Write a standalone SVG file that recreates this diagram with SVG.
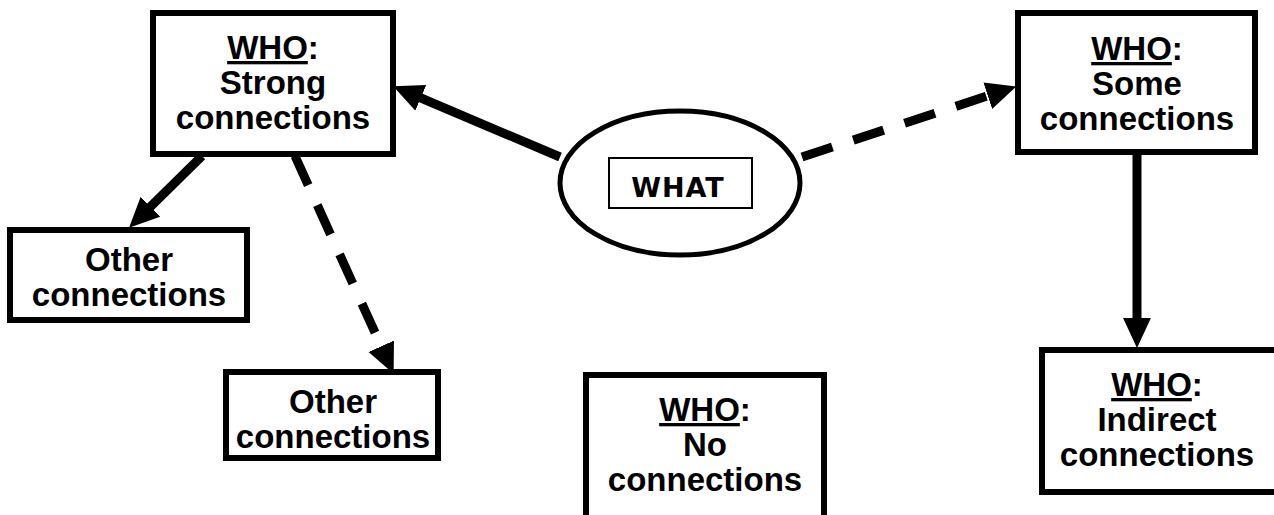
<svg xmlns="http://www.w3.org/2000/svg" width="1274" height="515" viewBox="0 0 1274 515">
<style>
.box{fill:#fff;stroke:#000;stroke-width:6}
.t{font-family:"Liberation Sans",Arial,sans-serif;font-weight:bold;font-size:33px;fill:#000;text-anchor:middle}
.u{text-decoration:underline}
.c{fill:none;stroke:#000;stroke-width:9}
.d{stroke-dasharray:32 22}
</style>
<defs>
<marker id="ah" markerUnits="userSpaceOnUse" markerWidth="30" markerHeight="30" refX="13" refY="13" orient="auto" viewBox="0 0 28 26">
<path d="M0,0 L28,13 L0,26 z" fill="#000"/>
</marker>
</defs>
<rect width="1274" height="515" fill="#fff"/>
<g id="connectors">
<line class="c" x1="560" y1="157" x2="408" y2="92.5" marker-end="url(#ah)"/>
<line class="c d" x1="802" y1="157" x2="1001" y2="91.5" marker-end="url(#ah)"/>
<line class="c" x1="202" y1="156" x2="140.5" y2="216.5" marker-end="url(#ah)"/>
<line class="c d" x1="295" y1="156" x2="387" y2="359" marker-end="url(#ah)"/>
<line class="c" x1="1137" y1="155" x2="1137" y2="332" marker-end="url(#ah)"/>
</g>
<g id="strong">
<rect class="box" x="153" y="13" width="240" height="141"/>
<text class="t" x="273" y="59"><tspan class="u">WHO</tspan>:</text>
<text class="t" x="273" y="94">Strong</text>
<text class="t" x="273" y="129">connections</text>
</g>
<g id="what">
<ellipse cx="680" cy="183" rx="120" ry="72" fill="#fff" stroke="#000" stroke-width="5"/>
<rect x="609" y="158" width="143" height="50" fill="#fff" stroke="#000" stroke-width="2"/>
<text x="678" y="197" font-family="DejaVu Sans,Verdana,sans-serif" font-weight="bold" font-size="27" letter-spacing="1" text-anchor="middle">WHAT</text>
</g>
<g id="some">
<rect class="box" x="1018" y="13" width="237" height="139"/>
<text class="t" x="1137" y="60"><tspan class="u">WHO</tspan>:</text>
<text class="t" x="1137" y="95">Some</text>
<text class="t" x="1137" y="130">connections</text>
</g>
<g id="other1">
<rect class="box" x="10" y="230" width="237" height="90"/>
<text class="t" x="129" y="271">Other</text>
<text class="t" x="129" y="306">connections</text>
</g>
<g id="other2">
<rect class="box" x="226" y="372" width="212" height="86"/>
<text class="t" x="333" y="413">Other</text>
<text class="t" x="333" y="448">connections</text>
</g>
<g id="none">
<rect class="box" x="586" y="375" width="238" height="150"/>
<text class="t" x="705" y="421"><tspan class="u">WHO</tspan>:</text>
<text class="t" x="705" y="456">No</text>
<text class="t" x="705" y="491">connections</text>
</g>
<g id="indirect">
<rect class="box" x="1042" y="350" width="250" height="142"/>
<text class="t" x="1157" y="396"><tspan class="u">WHO</tspan>:</text>
<text class="t" x="1157" y="431">Indirect</text>
<text class="t" x="1157" y="466">connections</text>
</g>
</svg>
